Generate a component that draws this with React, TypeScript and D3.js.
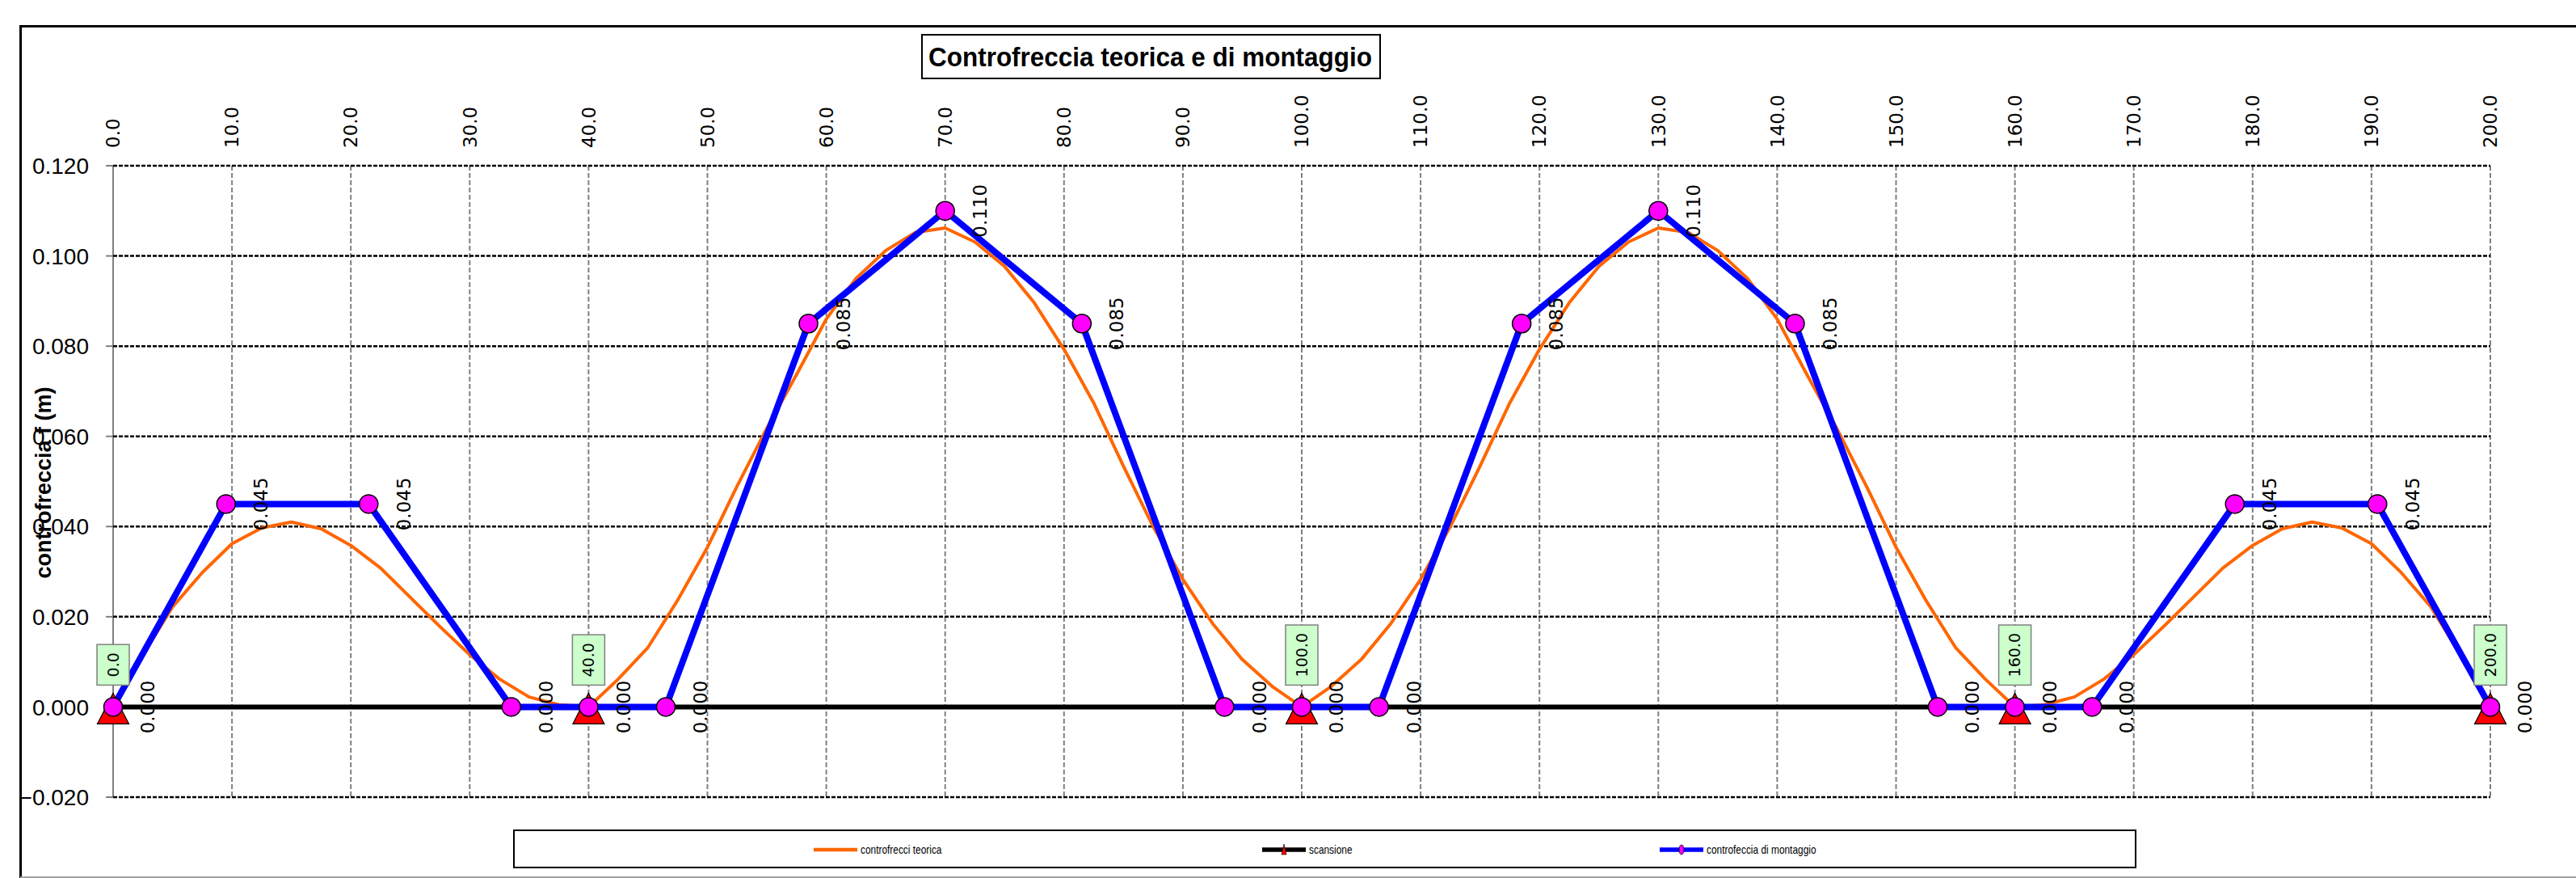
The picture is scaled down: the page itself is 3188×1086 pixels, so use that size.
import React, { useRef, useEffect } from "react";
import * as d3 from "d3";

const W = 3188;
const H = 1086;

// axis ticks
const xTickValues = [0, 10, 20, 30, 40, 50, 60, 70, 80, 90, 100, 110, 120, 130, 140, 150, 160, 170, 180, 190, 200];
const yTickValues = [-0.02, 0, 0.02, 0.04, 0.06, 0.08, 0.1, 0.12];

// controfreccia teorica (orange)
const theoX = [
  0, 2.5, 5, 7.5, 10, 12.5, 15, 17.5, 20, 22.5, 25, 27.5, 30, 32.5, 35, 37.5,
  40, 42.5, 45, 47.5, 50, 52.5, 55, 57.5, 60, 62.5, 65, 67.5, 70, 72.5, 75, 77.5,
  80, 82.5, 85, 87.5, 90, 92.5, 95, 97.5,
  100, 102.5, 105, 107.5, 110, 112.5, 115, 117.5, 120, 122.5, 125, 127.5, 130, 132.5, 135, 137.5,
  140, 142.5, 145, 147.5, 150, 152.5, 155, 157.5,
  160, 162.5, 165, 167.5, 170, 172.5, 175, 177.5, 180, 182.5, 185, 187.5, 190, 192.5, 195, 197.5, 200,
];
const theoY = [
  0, 0.0115, 0.0222, 0.0298, 0.0362, 0.0397, 0.041, 0.0395, 0.0358, 0.0308, 0.0243, 0.0178, 0.0116, 0.0062, 0.0022, 0.0005,
  0, 0.0062, 0.0132, 0.0237, 0.0354, 0.049, 0.0618, 0.0737, 0.086, 0.095, 0.1012, 0.1052, 0.1062, 0.1031, 0.0977, 0.0896,
  0.0793, 0.0674, 0.0534, 0.04, 0.0283, 0.0185, 0.0105, 0.0046,
  0, 0.0046, 0.0105, 0.0185, 0.0283, 0.04, 0.0534, 0.0674, 0.0793, 0.0896, 0.0977, 0.1031, 0.1062, 0.1052, 0.1012, 0.095,
  0.086, 0.0737, 0.0618, 0.049, 0.0354, 0.0237, 0.0132, 0.0062,
  0, 0.0005, 0.0022, 0.0062, 0.0116, 0.0178, 0.0243, 0.0308, 0.0358, 0.0395, 0.041, 0.0397, 0.0362, 0.0298, 0.0222, 0.0115, 0,
];

// controfreccia di montaggio (blue)
const montX = [0, 9.5, 21.5, 33.5, 40, 46.5, 58.5, 70, 81.5, 93.5, 100, 106.5, 118.5, 130, 141.5, 153.5, 160, 166.5, 178.5, 190.5, 200];
const montY = [0, 0.045, 0.045, 0, 0, 0, 0.085, 0.11, 0.085, 0, 0, 0, 0.085, 0.11, 0.085, 0, 0, 0, 0.045, 0.045, 0];

// scansione (supports)
const supportX = [0, 40, 100, 160, 200];
const supportY = [0, 0, 0, 0, 0];

const chartTitle = "Controfreccia teorica e di montaggio";
const yTitle = "controfreccia f (m)";
const seriesNames = ["controfrecci teorica", "scansione", "controfeccia di montaggio"];

const ORANGE = "#ff6600";
const BLUE = "#0000ff";
const MAGENTA = "#ff00ff";
const RED = "#ff0000";
const SANS = "'Liberation Sans', Arial, sans-serif";
const VERDANA = "'DejaVu Sans', Verdana, sans-serif";

export default function App() {
  const ref = useRef<SVGSVGElement>(null);

  useEffect(() => {
    const svg = d3.select(ref.current);
    svg.selectAll("*").remove();

    const x = d3.scaleLinear().domain([0, 200]).range([140, 3082]);
    const y = d3.scaleLinear().domain([-0.02, 0.12]).range([986, 205]);

    // outer chart frame
    svg.append("rect").attr("width", W).attr("height", H).attr("fill", "#fff");
    svg.append("path")
      .attr("d", `M25.5,${H} V32.5 H${W + 5}`)
      .attr("fill", "none").attr("stroke", "#000").attr("stroke-width", 3);
    svg.append("line")
      .attr("x1", 25).attr("x2", W).attr("y1", 1085).attr("y2", 1085)
      .attr("stroke", "#a0a0a0").attr("stroke-width", 2);

    // title
    svg.append("rect")
      .attr("x", 1141).attr("y", 43).attr("width", 567).attr("height", 54)
      .attr("fill", "#fff").attr("stroke", "#000").attr("stroke-width", 2);
    svg.append("text")
      .attr("x", 1149).attr("y", 82)
      .attr("font-family", SANS).attr("font-size", 33).attr("font-weight", "bold")
      .attr("textLength", 549).attr("lengthAdjust", "spacingAndGlyphs")
      .text(chartTitle);

    // vertical grid
    const g = svg.append("g");
    g.selectAll("line.vg")
      .data(xTickValues)
      .join("line")
      .attr("x1", (d) => x(d)).attr("x2", (d) => x(d))
      .attr("y1", y(0.12)).attr("y2", y(-0.02))
      .attr("stroke", "#808080").attr("stroke-width", 2)
      .attr("stroke-dasharray", (d) => (d === 0 ? null : "6,3"));

    // horizontal grid + y ticks
    g.selectAll("line.hg")
      .data(yTickValues)
      .join("line")
      .attr("x1", x(0)).attr("x2", x(200))
      .attr("y1", (d) => y(d)).attr("y2", (d) => y(d))
      .attr("stroke", "#000").attr("stroke-width", 2.5)
      .attr("stroke-dasharray", "5,2");
    g.selectAll("line.yt")
      .data(yTickValues)
      .join("line")
      .attr("x1", x(0) - 9).attr("x2", x(0))
      .attr("y1", (d) => y(d)).attr("y2", (d) => y(d))
      .attr("stroke", "#808080").attr("stroke-width", 2);

    const fmt3 = d3.format(".3f");
    const fmt1 = d3.format(".1f");

    // y tick labels
    svg.selectAll("text.ytl")
      .data(yTickValues)
      .join("text")
      .attr("x", 110).attr("y", (d) => y(d))
      .attr("dy", "0.36em")
      .attr("text-anchor", "end")
      .attr("font-family", SANS).attr("font-size", 28)
      .text((d) => fmt3(d));

    // x tick labels on top
    svg.selectAll("text.xtl")
      .data(xTickValues)
      .join("text")
      .attr("transform", (d) => `translate(${x(d)},183) rotate(-90)`)
      .attr("dy", "0.36em")
      .attr("text-anchor", "start")
      .attr("font-family", VERDANA).attr("font-size", 23)
      .text((d) => fmt1(d));

    // y axis title
    svg.append("text")
      .attr("transform", "translate(63,597) rotate(-90)")
      .attr("text-anchor", "middle")
      .attr("font-family", SANS)
      .attr("font-size", 27).attr("font-weight", "bold")
      .text(yTitle);

    // series lines
    const theoLine = d3.line<number>().x((_, i) => x(theoX[i])).y((d) => y(d));
    const montLine = d3.line<number>().x((_, i) => x(montX[i])).y((d) => y(d));
    const suppLine = d3.line<number>().x((_, i) => x(supportX[i])).y((d) => y(d));

    svg.append("path").attr("d", theoLine(theoY)).attr("fill", "none")
      .attr("stroke", ORANGE).attr("stroke-width", 4).attr("stroke-linejoin", "round");
    svg.append("path").attr("d", suppLine(supportY)).attr("fill", "none")
      .attr("stroke", "#000").attr("stroke-width", 6);
    svg.append("path").attr("d", montLine(montY)).attr("fill", "none")
      .attr("stroke", BLUE).attr("stroke-width", 8).attr("stroke-linejoin", "round");

    // support triangles
    svg.selectAll("path.tri")
      .data(supportY)
      .join("path")
      .attr("d", (d, i) => {
        const cx = x(supportX[i]);
        const cy = y(d);
        return `M${cx},${cy - 17} L${cx + 19.5},${cy + 21} L${cx - 19.5},${cy + 21} Z`;
      })
      .attr("fill", RED).attr("stroke", "#000").attr("stroke-width", 1.2);

    // montaggio markers
    svg.selectAll("circle.mk")
      .data(montY)
      .join("circle")
      .attr("cx", (_, i) => x(montX[i])).attr("cy", (d) => y(d))
      .attr("r", 11.5)
      .attr("fill", MAGENTA).attr("stroke", "#000").attr("stroke-width", 1.5);

    // support labels (green boxes)
    const sl = svg.selectAll("g.sl")
      .data(supportX)
      .join("g")
      .attr("transform", (d, i) => `translate(${x(d)},${y(supportY[i]) - 27}) rotate(-90)`);
    const rects = sl.append("rect")
      .attr("fill", "#ccffcc").attr("stroke", "#808080").attr("stroke-width", 1.5);
    const texts = sl.append("text")
      .attr("x", 10).attr("y", 0).attr("dy", "0.36em")
      .attr("font-family", VERDANA).attr("font-size", 19)
      .text((d) => fmt1(d));
    texts.each(function (_, i) {
      const len = (this as SVGTextElement).getComputedTextLength();
      d3.select(rects.nodes()[i]).attr("x", 0).attr("y", -20).attr("width", len + 20).attr("height", 40);
    });

    // montaggio value labels
    svg.selectAll("text.vl")
      .data(montY)
      .join("text")
      .attr("transform", (d, i) => `translate(${x(montX[i]) + 43},${y(d)}) rotate(-90)`)
      .attr("dy", "0.36em")
      .attr("text-anchor", "middle")
      .attr("font-family", VERDANA).attr("font-size", 23)
      .text((d) => fmt3(d));

    // legend
    svg.append("rect")
      .attr("x", 636).attr("y", 1027).attr("width", 2007).attr("height", 46)
      .attr("fill", "#fff").attr("stroke", "#000").attr("stroke-width", 2);
    const legX = [1007, 1562, 2054];
    const legColor = [ORANGE, "#000", BLUE];
    const ly = 1051;
    seriesNames.forEach((name, i) => {
      svg.append("line")
        .attr("x1", legX[i]).attr("x2", legX[i] + 54).attr("y1", ly).attr("y2", ly)
        .attr("stroke", legColor[i]).attr("stroke-width", i === 0 ? 4.5 : 5.5);
      if (i === 1) {
        const cx = legX[i] + 27;
        svg.append("path")
          .attr("d", `M${cx},${ly - 7} L${cx + 3},${ly + 6} L${cx - 3},${ly + 6} Z`)
          .attr("fill", RED).attr("stroke", "#000").attr("stroke-width", 0.6);
      }
      if (i === 2) {
        svg.append("ellipse")
          .attr("cx", legX[i] + 27).attr("cy", ly).attr("rx", 3).attr("ry", 6)
          .attr("fill", MAGENTA).attr("stroke", "#000").attr("stroke-width", 0.8);
      }
      svg.append("text")
        .attr("x", legX[i] + 58).attr("y", ly).attr("dy", "0.35em")
        .attr("font-family", SANS).attr("font-size", 14)
        .attr("transform", `translate(${legX[i] + 58},0) scale(0.85,1) translate(${-(legX[i] + 58)},0)`)
        .text(name);
    });
  }, []);

  return (
    <svg
      ref={ref}
      width={W}
      height={H}
      style={{ position: "absolute", left: 0, top: 0, display: "block" }}
    />
  );
}
